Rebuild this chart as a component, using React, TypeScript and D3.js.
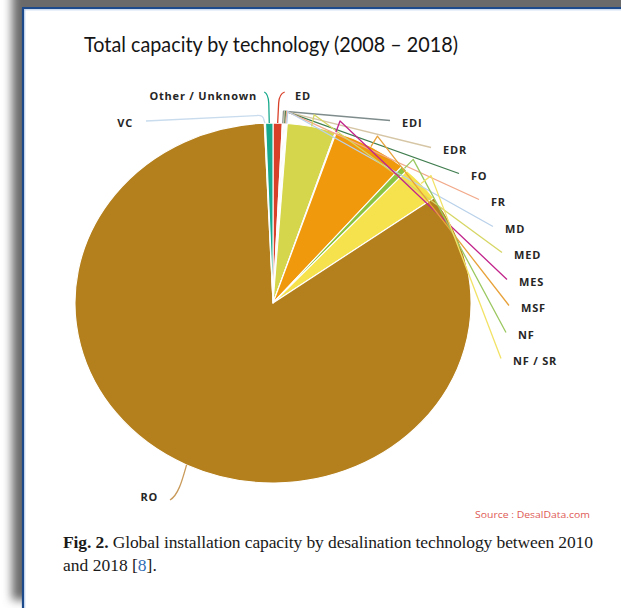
import React from 'react';
import * as d3 from 'd3';

// ---- data ----
const categories = ['ED', 'EDI', 'EDR', 'FO', 'FR', 'MD', 'MED', 'MES', 'MSF', 'NF', 'NF / SR', 'RO', 'VC', 'Other / Unknown'];
const shares = [0.75, 0.08, 0.08, 0.08, 0.08, 0.08, 3.95, 0.08, 6.1, 0.55, 3.25, 84.22, 0.1, 0.6];
const sliceColors = ['#d9402a', '#8a9696', '#d9c9a9', '#3f7d4e', '#f2a98a', '#b9d1ea', '#d6d64c', '#c2248c', '#f0990c', '#8dc43f', '#f6e24c', '#b47f1d', '#c9dcee', '#17a98b'];
const leaderColors = ['#d9402a', '#7f8c8c', '#d6c6a6', '#3f7d4e', '#f2a98a', '#b9d1ea', '#d6d664', '#c2248c', '#e8a23a', '#9bc860', '#f2e266', '#c99a5a', '#c9dcee', '#17a98b'];
const titleText = 'Total capacity by technology (2008 \u2013 2018)';
const sourceText = 'Source : DesalData.com';
const captionBold = 'Fig. 2.';
const captionLine1 = ' Global installation capacity by desalination technology between 2010';
const captionLine2a = 'and 2018 [';
const captionRef = '8';
const captionLine2b = '].';

// ---- layout ----
const W = 621, H = 608;
const CX = 273, CY = 303, RY = 180, RX = 198;
const SX = RX / RY;

type Lay = { x: number; y: number; anchor: 'start' | 'end'; kind: string };
const labelLayout: Record<string, Lay> = {
  'ED': { x: 295, y: 96, anchor: 'start', kind: 'upRight' },
  'Other / Unknown': { x: 257, y: 96, anchor: 'end', kind: 'upLeft' },
  'VC': { x: 133, y: 123, anchor: 'end', kind: 'left' },
  'EDI': { x: 402, y: 123, anchor: 'start', kind: 'right' },
  'EDR': { x: 443, y: 150, anchor: 'start', kind: 'right' },
  'FO': { x: 471, y: 176, anchor: 'start', kind: 'right' },
  'FR': { x: 491, y: 202, anchor: 'start', kind: 'right' },
  'MD': { x: 505, y: 229, anchor: 'start', kind: 'right' },
  'MED': { x: 514, y: 255, anchor: 'start', kind: 'right' },
  'MES': { x: 519, y: 282, anchor: 'start', kind: 'right' },
  'MSF': { x: 521, y: 308, anchor: 'start', kind: 'right' },
  'NF': { x: 518, y: 335, anchor: 'start', kind: 'right' },
  'NF / SR': { x: 513, y: 361, anchor: 'start', kind: 'right' },
  'RO': { x: 158, y: 497, anchor: 'end', kind: 'ro' },
};

function pt(a: number, r: number): [number, number] {
  return [CX + SX * r * Math.sin(a), CY - r * Math.cos(a)];
}

export default function App() {
  const arcs = d3.pie<number>().sort(null).value((d) => d).startAngle(0).endAngle(2 * Math.PI)(shares);
  const arcGen = d3.arc<d3.PieArcDatum<number>>().innerRadius(0).outerRadius(RY);

  const leaders = arcs.map((a, i) => {
    const name = categories[i];
    const lay = labelLayout[name];
    const mid = (a.startAngle + a.endAngle) / 2;
    const s = pt(mid, RY);
    const p = d3.path();
    if (lay.kind === 'right') {
      const k = pt(mid, RY + 12);
      p.moveTo(s[0], s[1]);
      p.lineTo(k[0], k[1]);
      p.lineTo(lay.x - 12, lay.y - 2.5);
    } else if (lay.kind === 'upRight') {
      p.moveTo(s[0], s[1]);
      p.lineTo(s[0] + 1, 103);
      p.quadraticCurveTo(s[0] + 1.5, 94, s[0] + 7, 92);
    } else if (lay.kind === 'upLeft') {
      p.moveTo(s[0], s[1]);
      p.lineTo(s[0] - 0.5, 103);
      p.quadraticCurveTo(s[0] - 1, 94, s[0] - 5, 92);
    } else if (lay.kind === 'left') {
      p.moveTo(s[0], s[1]);
      p.lineTo(s[0] - 1, 120);
      p.quadraticCurveTo(s[0] - 1.5, 115, s[0] - 8, 115.5);
      p.lineTo(lay.x + 13, 121);
    } else {
      p.moveTo(s[0], s[1]);
      p.bezierCurveTo(s[0] - 4, s[1] + 14, s[0] - 8, s[1] + 30, lay.x + 12, lay.y + 3);
    }
    return { d: p.toString(), color: leaderColors[i], name, lay };
  });

  return (
    <svg width={W} height={H} style={{ position: 'absolute', left: 0, top: 0, display: 'block' }}>
      <defs>
        <filter id="shadow" x="-20%" y="-20%" width="140%" height="140%">
          <feGaussianBlur stdDeviation="5" />
        </filter>
      </defs>
      <rect x={0} y={0} width={W} height={H} fill="#ffffff" />
      <rect x={12} y={-30} width={W + 40} height={630} fill="#6a6a6a" filter="url(#shadow)" />
      <rect x={23} y={8} width={W} height={H} fill="#ffffff" />
      <line x1={23} y1={8} x2={23} y2={H} stroke="#1d4a8a" strokeWidth={2.2} />
      <line x1={22} y1={8} x2={W} y2={8} stroke="#1d4a8a" strokeWidth={2.2} />
      <line x1={24.8} y1={9.6} x2={24.8} y2={H} stroke="#a9c4e6" strokeWidth={0.8} />
      <line x1={24} y1={9.8} x2={W} y2={9.8} stroke="#a9c4e6" strokeWidth={0.8} />

      <text x={84} y={52} fontFamily="Lato, 'Open Sans', sans-serif" fontSize={21.5} fill="#151515"
        textLength={374} lengthAdjust="spacingAndGlyphs">{titleText}</text>

      <g transform={`translate(${CX},${CY}) scale(${SX},1)`}>
        {arcs.map((a, i) => (
          <path key={categories[i]} d={arcGen(a) || ''} fill={sliceColors[i]} stroke="#ffffff"
            strokeWidth={1.1} strokeLinejoin="round" vectorEffect="non-scaling-stroke" />
        ))}
      </g>

      {leaders.map((l) => (
        <path key={'l' + l.name} d={l.d} fill="none" stroke={l.color} strokeWidth={1.3} strokeLinejoin="round" />
      ))}

      {leaders.map((l) => (
        <text key={'t' + l.name} x={l.lay.x} y={l.lay.y + 4} textAnchor={l.lay.anchor}
          fontFamily="'Open Sans', 'DejaVu Sans', sans-serif" fontWeight={700} fontSize={11}
          letterSpacing={0.8} fill="#262626">{l.name}</text>
      ))}

      <text x={475} y={518} fontFamily="'Open Sans', sans-serif" fontSize={9.5} fill="#de5a55"
        textLength={115} lengthAdjust="spacingAndGlyphs">{sourceText}</text>

      <text x={63} y={548} fontFamily="'Liberation Serif', 'DejaVu Serif', serif" fontSize={17.5} fill="#1a1a1a"
        textLength={530} lengthAdjust="spacing">
        <tspan fontWeight={700}>{captionBold}</tspan>
        <tspan>{captionLine1}</tspan>
      </text>
      <text x={63} y={571} fontFamily="'Liberation Serif', 'DejaVu Serif', serif" fontSize={17.5} fill="#1a1a1a">
        <tspan>{captionLine2a}</tspan>
        <tspan fill="#2f6db5">{captionRef}</tspan>
        <tspan>{captionLine2b}</tspan>
      </text>
    </svg>
  );
}
